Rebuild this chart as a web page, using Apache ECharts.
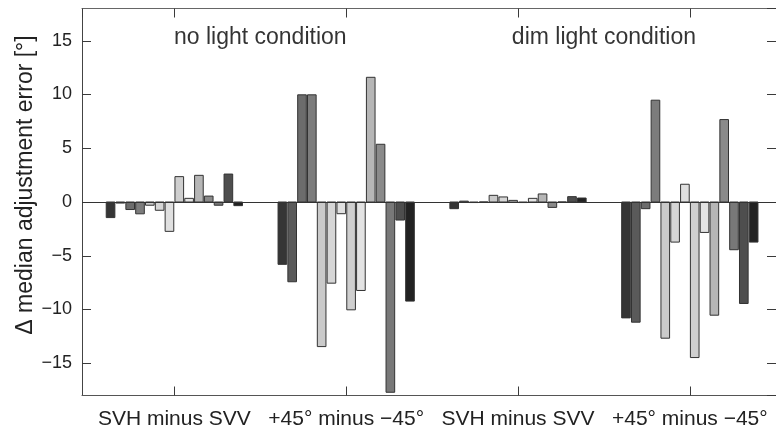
<!DOCTYPE html>
<html>
<head>
<meta charset="utf-8">
<script src="https://cdn.jsdelivr.net/npm/echarts@6/dist/echarts.min.js"></script>
<style>html,body{margin:0;padding:0;background:#fff}#c{width:776px;height:437px}</style>
</head>
<body>
<div id="c"></div>
<script>
// ---- data ----
var categories = ['SVH minus SVV', '+45\u00b0 minus \u221245\u00b0', 'SVH minus SVV', '+45\u00b0 minus \u221245\u00b0'];
var conditionTitles = ['no light condition', 'dim light condition'];
var yTicks = [-15, -10, -5, 0, 5, 10, 15];
// one value per subject (14 subjects) per group
var noLightSvhSvv   = [-1.45, -0.1, -0.7, -1.1, -0.3, -0.77, -2.73, 2.36, 0.34, 2.48, 0.55, -0.3, 2.6, -0.34];
var noLightTilt     = [-5.8, -7.42, 9.97, 9.97, -13.45, -7.55, -1.09, -10.03, -8.23, 11.6, 5.37, -17.7, -1.68, -9.22];
var dimLightSvhSvv  = [-0.62, 0.08, -0.05, 0, 0.62, 0.47, 0.15, -0.05, 0.34, 0.75, -0.5, 0, 0.5, 0.37];
var dimLightTilt    = [-10.78, -11.18, -0.62, 9.47, -12.67, -3.73, 1.65, -14.47, -2.83, -10.53, 7.67, -4.44, -9.44, -3.73];

var groups = [noLightSvhSvv, noLightTilt, dimLightSvhSvv, dimLightTilt];
var subjectColors = ['#353535', '#5a5a5a', '#6c6c6c', '#7c7c7c', '#cacaca', '#d6d6d6', '#e0e0e0',
                     '#cfcfcf', '#e3e3e3', '#b6b6b6', '#8a8a8a', '#787878', '#4e4e4e', '#222222'];
var nSub = 14;

var barData = [];
groups.forEach(function (vals, gi) {
  vals.forEach(function (v, si) { barData.push([gi + 1, si, v]); });
});

var chart = echarts.init(document.getElementById('c'), null, {renderer: 'canvas'});
var tickFont = 'Liberation Sans, Arial, sans-serif';
var X_MIN = 0.4624, X_MAX = 4.5016;

function xLabel(v) {
  var r = Math.round(v);
  return (Math.abs(v - r) < 1e-6 && r >= 1 && r <= categories.length) ? categories[r - 1] : '';
}
function yLabel(v) {
  return yTicks.indexOf(v) < 0 ? '' : (v < 0 ? '\u2212' + Math.abs(v) : String(v));
}
var tickStyle = {show: true, inside: true, length: 9, lineStyle: {color: '#3a3a3a', width: 1}};

var option = {
  animation: false,
  grid: {left: 82, top: 8.5, width: 695, height: 387, containLabel: false},
  xAxis: [{
    type: 'value', min: X_MIN, max: X_MAX, position: 'bottom', splitNumber: 4,
    splitLine: {show: false},
    axisLine: {show: true, onZero: false, lineStyle: {color: '#555', width: 1}},
    axisTick: tickStyle,
    axisLabel: {show: true, margin: 13, color: '#222', showMinLabel: false, showMaxLabel: false,
      fontFamily: tickFont, fontSize: 21, formatter: xLabel}
  }, {
    type: 'value', min: X_MIN, max: X_MAX, position: 'top', splitNumber: 4,
    splitLine: {show: false},
    axisLine: {show: true, onZero: false, lineStyle: {color: '#666', width: 1}},
    axisTick: tickStyle,
    axisLabel: {show: false}
  }],
  yAxis: [{
    type: 'value', min: -18, max: 18, position: 'left', splitNumber: 7,
    splitLine: {show: false},
    axisLine: {show: true, onZero: false, lineStyle: {color: '#444', width: 1}},
    axisTick: tickStyle,
    axisLabel: {show: true, margin: 10, color: '#222', showMinLabel: false, showMaxLabel: false,
      fontFamily: tickFont, fontSize: 18, formatter: yLabel}
  }, {
    type: 'value', min: -18, max: 18, position: 'right', splitNumber: 7,
    splitLine: {show: false},
    axisLine: {show: true, onZero: false, lineStyle: {color: '#444', width: 1}},
    axisTick: tickStyle,
    axisLabel: {show: false}
  }],
  graphic: [{
    type: 'text', x: 26, y: 185, rotation: Math.PI / 2,
    style: {text: '\u0394 median adjustment error [\u00b0]', font: '23px Liberation Sans, Arial, sans-serif',
      fill: '#222', textAlign: 'center', textVerticalAlign: 'middle'}
  }],
  series: [{
    type: 'custom',
    xAxisIndex: 0, yAxisIndex: 0,
    data: barData,
    encode: {x: 0, y: 2},
    clip: true,
    renderItem: function (params, api) {
      var g = api.value(0), s = api.value(1), v = api.value(2);
      var slot = 0.8 / nSub;
      var xc = g + (s - (nSub - 1) / 2) * slot;
      var p0 = api.coord([xc - slot * 0.44, v]);
      var p1 = api.coord([xc + slot * 0.44, 0]);
      return {
        type: 'rect',
        shape: {x: p0[0], y: Math.min(p0[1], p1[1]), width: p1[0] - p0[0], height: Math.abs(p1[1] - p0[1])},
        style: {fill: subjectColors[s], stroke: '#333', lineWidth: 1}
      };
    },
    markLine: {
      silent: true, symbol: ['none', 'none'], label: {show: false},
      lineStyle: {color: '#333', width: 1, type: 'solid'},
      data: [{yAxis: 0}]
    },
    z: 2
  }, {
    type: 'scatter',
    xAxisIndex: 0, yAxisIndex: 0,
    symbolSize: 0,
    data: [[1.5, 15.3], [3.5, 15.3]],
    label: {show: true, position: 'inside', color: '#000',
      fontFamily: tickFont, fontSize: 23,
      formatter: function (p) { return conditionTitles[p.dataIndex]; }},
    z: 3
  }]
};
chart.setOption(option);
</script>
</body>
</html>
